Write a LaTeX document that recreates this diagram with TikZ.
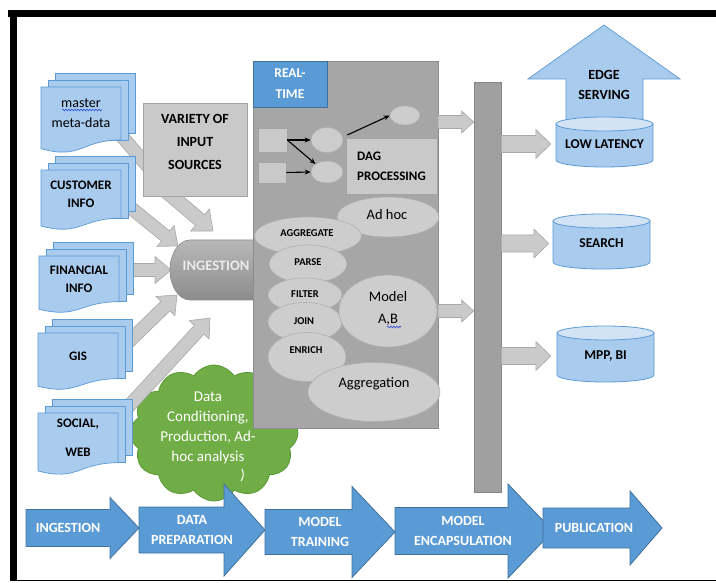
\documentclass[tikz,border=0pt]{standalone}
\usepackage{fontspec}
\setmainfont{Carlito}
\usetikzlibrary{shapes.geometric,shapes.symbols,calc,arrows.meta,decorations.pathmorphing}

\definecolor{docfill}{HTML}{A9CBEE}
\definecolor{docline}{HTML}{5B9BD5}
\definecolor{procfill}{HTML}{5B9BD5}
\definecolor{procline}{HTML}{41719C}
\definecolor{panelgray}{HTML}{A6A6A6}
\definecolor{panelline}{HTML}{8C8C8C}
\definecolor{ellfill}{HTML}{CDCDCD}
\definecolor{ellline}{HTML}{B0B0B0}
\definecolor{boxfill}{HTML}{C9C9C9}
\definecolor{boxline}{HTML}{A3A3A3}
\definecolor{arrfill}{HTML}{CACACA}
\definecolor{arrline}{HTML}{A8A8A8}
\definecolor{barfill}{HTML}{A0A0A0}
\definecolor{barline}{HTML}{858585}
\definecolor{cloudfill}{HTML}{70AD47}
\definecolor{cloudline}{HTML}{5A9A35}
\definecolor{cyltop}{HTML}{D2E3F5}
\definecolor{ingtop}{HTML}{B8B8B8}
\definecolor{ingbot}{HTML}{8C8C8C}
\definecolor{spellblue}{HTML}{2F4FD8}

% block arrow between two named coordinates
\newcommand\blockarrow[6]{%
  \pgfpointdiff{\pgfpointanchor{#2}{center}}{\pgfpointanchor{#3}{center}}%
  \pgfgetlastxy{\bkdx}{\bkdy}%
  \pgfmathsetmacro\bkang{atan2(\bkdy,\bkdx)}%
  \pgfmathsetmacro\bklen{veclen(\bkdx,\bkdy)}%
  \pgfmathsetmacro\bkneck{\bklen-#6}%
  \draw[#1,shift={(#2)},rotate=\bkang] (0pt,-#4pt) -- (\bkneck pt,-#4pt) -- (\bkneck pt,-#5pt)
     -- (\bklen pt,0pt) -- (\bkneck pt,#5pt) -- (\bkneck pt,#4pt) -- (0pt,#4pt) -- cycle;
}
% stack of documents: name, x0, top, height, text, text style
\newcommand\docstack[6]{%
  \draw[docst] (#2+14,#3-14) rectangle (#2+94,#3+0.802*#4-7);
  \draw[docst] (#2+7,#3-7) rectangle (#2+87,#3+0.802*#4);
  \draw[docst] (#2,#3) -- (#2+80,#3) -- (#2+80,#3+0.802*#4)
     .. controls (#2+40,#3+0.802*#4) and (#2+40,#3+1.107*#4) .. (#2,#3+0.934*#4) -- cycle;
  \node[#6] (#1) at (#2+40,#3+0.4*#4) {#5};
}
% process arrow: xs, xneck, xtip, yc, shaft half, head half, name, text x, text
\newcommand\procarrow[9]{%
  \draw[procst] (#1,#4-#5) -- (#2,#4-#5) -- (#2,#4-#6) -- (#3,#4) -- (#2,#4+#6) -- (#2,#4+#5) -- (#1,#4+#5) -- cycle;
  \node[proctext] (#7) at (#8,#4) {#9};
}
% database cylinder: name, x1, x2, top, bottom, text
\newcommand\dbcyl[6]{%
  \pgfmathsetmacro\cylrx{(#3-#2)/2}%
  \draw[cylst] (#2,#4+7) -- (#2,#5-7) arc[start angle=180,end angle=360,x radius=\cylrx pt,y radius=7pt] -- (#3,#4+7) -- cycle;
  \draw[cylst,fill=cyltop] ({(#2+#3)/2},#4+7) ellipse [x radius=\cylrx pt,y radius=7pt];
  \node[cyltext,minimum width={(#3-#2)*1pt}] (#1) at ({(#2+#3)/2},{(#4+#5)/2+2}) {#6};
}

\tikzset{
  docst/.style={draw=docline,fill=docfill,line width=0.7pt},
  docbold/.style={font=\bfseries\fontsize{13}{18}\selectfont,align=center,inner sep=0pt},
  docreg/.style={font=\fontsize{14}{20}\selectfont,align=center,inner sep=0pt},
  grayarr/.style={draw=arrline,fill=arrfill,line width=0.6pt},
  procst/.style={draw=procline,fill=procfill,line width=0.8pt},
  proctext/.style={font=\bfseries\fontsize{14}{20}\selectfont,text=white,align=center,inner sep=0pt},
  cylst/.style={draw=docline,fill=docfill,line width=0.8pt},
  cyltext/.style={font=\bfseries\fontsize{13.5}{18}\selectfont,align=center,inner sep=0pt},
  graybox/.style={draw=boxline,fill=boxfill,line width=0.6pt,inner sep=0pt},
  ell/.style={ellipse,draw=ellline,fill=ellfill,line width=0.6pt,inner sep=0pt},
  smalltxt/.style={font=\bfseries\fontsize{10.5}{12}\selectfont,inner sep=0pt},
  bigtxt/.style={font=\fontsize{14.5}{22}\selectfont,align=center,inner sep=0pt},
  boldtxt/.style={font=\bfseries\fontsize{14}{23}\selectfont,align=center,inner sep=0pt},
  dagarr/.style={-{Stealth[length=6pt,width=5pt]},line width=1.1pt,black},
  spell/.style={spellblue,line width=0.6pt,decorate,decoration={snake,amplitude=0.9pt,segment length=3pt}}
}

\begin{document}
\begin{tikzpicture}[x=1pt,y=-1pt]
\useasboundingbox (0,0) rectangle (716,583);
\fill[white] (0,0) rectangle (716,583);

% frame
\fill[black] (8,10.5) rectangle (716,17.5);
\fill[black] (10,10.5) rectangle (17,581);
\draw[black,line width=1.2pt] (17,580.4) -- (716,580.4);

% cloud
\node[cloud,cloud puffs=12,cloud puff arc=115,cloud ignores aspect,minimum width=168pt,minimum height=136pt,
      fill=cloudfill,draw=cloudline,line width=0.8pt] (cloud) at (214,433) {};
\node[font=\fontsize{15}{20}\selectfont,text=white,align=center,inner sep=0pt] (cloudtext) at (208,428)
  {Data\\Conditioning,\\Production, Ad-\\hoc analysis};
\draw[white,line width=1pt] (242,469) to[bend left=30] (241,481);

% edge serving arrow
\draw[docst] (566,125) -- (566,79) -- (528,79) -- (604,25) -- (680,79) -- (643,79) -- (643,125) -- cycle;
\node[font=\bfseries\fontsize{14}{20}\selectfont,align=center,inner sep=0pt] (edge) at (604,85) {EDGE\\SERVING};

% gray arrows towards ingestion
\coordinate (m-out) at (113,126);  \coordinate (m-in) at (170,192);
\coordinate (c-out) at (116,196);  \coordinate (c-in) at (178,246);
\coordinate (f-out) at (116,270);  \coordinate (f-in) at (171,270);
\coordinate (g-out) at (118,352);  \coordinate (g-in) at (177,295);
\coordinate (s-out) at (117,419);  \coordinate (s-in) at (210,318);
\coordinate (v-out) at (161,187);  \coordinate (v-in) at (213,231);
\blockarrow{grayarr}{m-out}{m-in}{6.5}{13.5}{16}
\blockarrow{grayarr}{c-out}{c-in}{6.5}{13.5}{16}
\blockarrow{grayarr}{f-out}{f-in}{6.5}{13.5}{16}
\blockarrow{grayarr}{g-out}{g-in}{6.5}{13.5}{16}
\blockarrow{grayarr}{s-out}{s-in}{6.5}{13.5}{16}
\blockarrow{grayarr}{v-out}{v-in}{7}{14.5}{17}

% documents
\docstack{master}{41}{87}{66}{master\\meta-data}{docreg}
\draw[spell] (62,110) -- (102,110);
\docstack{customer}{41}{170}{60}{CUSTOMER\\INFO}{docbold}
\docstack{financial}{39}{256}{57}{FINANCIAL\\INFO}{docbold}
\docstack{gis}{38}{333}{57}{GIS}{docbold}
\docstack{social}{38}{413}{62}{SOCIAL,\\[11pt]WEB}{docbold}

% variety of input sources
\node[graybox,minimum width=104pt,minimum height=93pt] (variety) at (195,149.5) {};
\node[boldtxt] (varietytext) at (195,142) {VARIETY OF\\INPUT\\SOURCES};

% ingestion cylinder
\draw[top color=ingtop,bottom color=ingbot,draw=ingbot,line width=0.6pt]
  (256,240) -- (190,240) arc[start angle=90,end angle=270,x radius=20pt,y radius=30pt] -- (256,300) -- cycle;
\node[font=\bfseries\fontsize{14.5}{18}\selectfont,text=white!92!black,inner sep=0pt] (ingest) at (216,266) {INGESTION};

% processing panel
\node[draw=panelline,fill=panelgray,line width=0.7pt,minimum width=185pt,minimum height=367pt,inner sep=0pt] (panel) at (345.5,244.5) {};
\node[draw=procline,fill=procfill,line width=0.6pt,minimum width=74pt,minimum height=46pt,inner sep=0pt,
      font=\bfseries\fontsize{13.5}{21}\selectfont,text=white,align=center] (realtime) at (290,84) {REAL-\\TIME};

\node[graybox,minimum width=91pt,minimum height=56pt,font=\bfseries\fontsize{13}{20}\selectfont,align=left] (dag) at (391.5,166) {DAG\\PROCESSING};
\node[graybox,minimum width=29pt,minimum height=24pt] (sq1) at (272.5,140) {};
\node[graybox,minimum width=28pt,minimum height=21pt] (sq2) at (272,172.5) {};
\node[ell,minimum width=32pt,minimum height=25pt] (e1) at (327,140) {};
\node[ell,minimum width=32pt,minimum height=22pt] (e2) at (327,172) {};
\node[ell,minimum width=30pt,minimum height=19pt] (e3) at (405,115.5) {};
\draw[dagarr] (sq1.east) -- (e1.west);
\draw[dagarr] (sq1.east) -- (e2.north west);
\draw[dagarr] (sq2.east) -- (e2.west);
\draw[dagarr] ([xshift=4pt,yshift=5pt]e1.east) -- (e3.west);

\node[ell,minimum width=102pt,minimum height=40pt] (adhoc) at (388,217) {};
\node[bigtxt] (adhoc-t) at (387,215) {Ad hoc};
\node[ell,minimum width=107pt,minimum height=38pt] (aggregate) at (308,236) {};
\node[smalltxt] (aggregate-t) at (307,233) {AGGREGATE};
\node[ell,minimum width=78pt,minimum height=38pt] (parse) at (308,264) {};
\node[smalltxt] (parse-t) at (308,262) {PARSE};
\node[ell,minimum width=74pt,minimum height=34pt] (filter) at (305,295) {};
\node[smalltxt] (filter-t) at (305,294) {FILTER};
\node[ell,minimum width=74pt,minimum height=39pt] (join) at (305,322) {};
\node[smalltxt] (join-t) at (304,321) {JOIN};
\node[ell,minimum width=78pt,minimum height=49pt] (enrich) at (307,357) {};
\node[smalltxt] (enrich-t) at (306,350) {ENRICH};
\node[ell,minimum width=98pt,minimum height=72pt] (model) at (388,311) {};
\node[bigtxt] (model-t) at (388,308) {Model\\A,B};
\draw[spell] (387,327) -- (401,327);
\node[ell,minimum width=132pt,minimum height=59pt] (aggregation) at (374,392) {};
\node[bigtxt] (aggregation-t) at (374,384) {Aggregation};

% distribution bar
\node[draw=barline,fill=barfill,line width=0.6pt,minimum width=27pt,minimum height=410pt,inner sep=0pt] (bar) at (487.5,287) {};
\coordinate (pa1) at (438,122); \coordinate (pa1e) at (bar.west |- pa1);
\coordinate (pa2) at (438,311); \coordinate (pa2e) at (bar.west |- pa2);
\blockarrow{grayarr}{pa1}{pa1e}{6.5}{11}{12}
\blockarrow{grayarr}{pa2}{pa2e}{6.5}{11}{12}

% databases
\dbcyl{lowlat}{556}{653}{117}{167}{LOW LATENCY}
\dbcyl{search}{553}{650}{214}{269}{SEARCH}
\dbcyl{mpp}{557}{654}{326}{382}{MPP, BI}
\coordinate (b1s) at (bar.east |- lowlat); \coordinate (b1e) at ([xshift=-5pt]lowlat.west);
\coordinate (b2s) at (bar.east |- search); \coordinate (b2e) at ([xshift=-4pt]search.west);
\coordinate (b3s) at (bar.east |- mpp);    \coordinate (b3e) at ([xshift=-6pt]mpp.west);
\blockarrow{grayarr}{b1s}{b1e}{8.5}{14.5}{15}
\blockarrow{grayarr}{b2s}{b2e}{8.5}{14.5}{15}
\blockarrow{grayarr}{b3s}{b3e}{8.5}{14.5}{15}

% process chain
\procarrow{26}{110}{139}{528}{18.5}{30.5}{p-ingest}{68}{INGESTION}
\procarrow{139}{224}{265}{530}{23}{46}{p-prep}{192}{DATA\\PREPARATION}
\procarrow{265}{352}{395}{532}{22.5}{45.5}{p-train}{320}{MODEL\\TRAINING}
\procarrow{395}{508}{553}{531}{23.5}{47}{p-encap}{463}{MODEL\\ENCAPSULATION}
\procarrow{543}{630}{662}{528}{20}{37}{p-pub}{594}{PUBLICATION}
\end{tikzpicture}
\end{document}
